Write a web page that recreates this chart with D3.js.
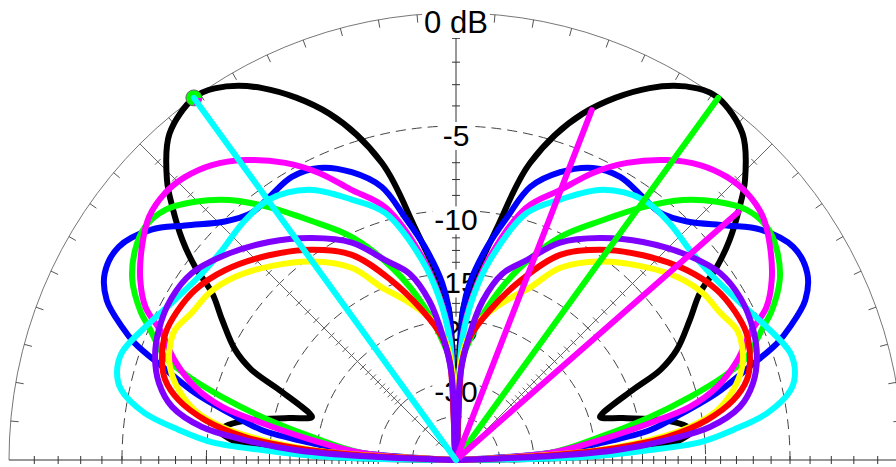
<!DOCTYPE html>
<html>
<head>
<meta charset="utf-8">
<script src="https://cdn.jsdelivr.net/npm/d3@7"></script>
<style>
  body { margin: 0; background: #fff; }
  svg { display: block; }
</style>
</head>
<body>
<div id="chart"></div>
<script>
// elevation patterns, dB vs elevation angle (0 = right horizon, 90 = zenith)
// the plot is left/right symmetric, so each series holds the right half (0..90 deg)
// and the left half is drawn from the same readings at 180 - angle

var blackPattern = [[0,-100],[1.35,-23],[2.95,-16],[4.2,-12.5],[5.5,-11.5],[7,-10.8],[8.8,-11.4],[11.1,-13.1],[14.1,-16.4],[16.6,-18.7],[17.7,-18.3],[21.6,-14.7],[23.8,-11.9],[26.5,-10.2],[30.9,-8.5],[34.4,-7.1],[36.5,-5.5],[38.8,-4.15],[41.7,-2.8],[44.1,-1.8],[48.7,-0.5],[54.1,0],[57,-0.15],[62.5,-1.1],[69.9,-3.3],[76,-6.5],[80,-11],[84,-15],[87.3,-18.7],[90,-100]];
var bluePattern = [[0,-100],[4.3,-26.7],[6.7,-19.3],[8.8,-14.1],[11.7,-11.3],[14.4,-8.7],[17.6,-6.4],[20,-4.6],[21.7,-3.75],[24.6,-2.6],[28,-2.0],[32.3,-1.95],[37.1,-2.7],[40.9,-3.8],[45.9,-5.1],[50.4,-5.7],[54.6,-5.6],[59.9,-5.35],[64.9,-5.6],[70.1,-6.5],[74.8,-7.85],[78.1,-10.1],[81.7,-12.55],[85.5,-15.8],[87.3,-18.7],[90,-100]];
var greenPattern = [[0,-100],[4.3,-26.7],[9.1,-19.2],[12.5,-13.9],[15.1,-10.5],[17.3,-8.05],[19.5,-6.35],[23.4,-4.97],[25.1,-4.3],[29.1,-3.22],[33.2,-2.63],[36.8,-2.4],[40.7,-2.63],[44.7,-3.38],[48.9,-4.44],[53.5,-6.03],[58.5,-7.94],[65,-10.25],[72,-13.8],[78.3,-18],[84,-23],[87.5,-27],[90,-100]];
var magentaPattern = [[0,-100],[4.3,-26.7],[7.9,-19.3],[10.8,-14.0],[12.8,-10.7],[15.6,-8.6],[19.6,-6.9],[23.4,-5.7],[26.2,-4.4],[29.7,-3.55],[34.2,-2.8],[38.4,-2.27],[42.5,-2.13],[46.2,-2.26],[50.4,-2.66],[54.9,-3.4],[60.1,-4.56],[64.5,-5.84],[68.7,-7.4],[74.5,-9.2],[80.4,-13.2],[84,-16.9],[87,-22],[90,-100]];
var cyanPattern = [[0,-100],[1.35,-21.6],[2.95,-14.3],[4.2,-10.3],[6.2,-8.1],[8.6,-6.0],[11.8,-4.6],[14.4,-4.2],[17.8,-4.15],[23.2,-4.8],[29.7,-5.55],[36.4,-6.0],[41.9,-6.05],[47.9,-5.8],[54.3,-5.7],[61.4,-6.4],[68.2,-8.0],[74,-9.5],[80.4,-13.6],[84,-17.2],[87.1,-22.6],[90,-100]];
var yellowPattern = [[0,-100],[3,-26.8],[4,-19.4],[5.9,-14.2],[8,-11.0],[10.8,-8.9],[14.2,-7.66],[18,-6.8],[21,-6.45],[24.8,-6.3],[29.1,-6.7],[34.1,-6.96],[39.6,-7.6],[45.9,-8.7],[54,-10.3],[61.6,-12.3],[66.8,-14.9],[72.3,-16.8],[80.3,-19.7],[84.8,-22.5],[87.5,-26.9],[90,-100]];
var redPattern = [[0,-100],[3,-25],[4.3,-17.5],[6.2,-12.8],[9.05,-9.7],[12.2,-7.8],[15.4,-6.75],[18.8,-6.25],[23.6,-5.9],[28,-5.95],[33.1,-6.2],[39.4,-6.9],[47.6,-8.2],[55.6,-9.65],[63.1,-11.4],[70,-14.5],[77.2,-18.3],[83.5,-22],[86.5,-26.2],[90,-100]];
var purplePattern = [[0,-100],[2.5,-25],[3.55,-17.5],[5.4,-12.8],[7.4,-9.56],[10.6,-7.5],[14.5,-6.46],[18.9,-5.84],[23.6,-5.5],[29.6,-5.35],[35.3,-5.55],[41.6,-6.35],[49.4,-7.6],[57,-9.0],[64.4,-10.6],[70.5,-12.8],[76,-14.5],[80.5,-17.5],[84,-22],[87,-28],[90,-100]];

// beam markers: max direction lines and -3 dB lines
var beamAngles = [54.1, 68.8, 41.3, 125.9];
var beamDb = [0, -3, -3, 0];

// grid levels (dB)
var ringLevels = [-5, -10, -15, -20, -30, -40];
var labelLevels = [0, -5, -10, -15, -20, -30];
var labelTexts = ["0 dB", "-5", "-10", "-15", "-20", "-30"];
var tickLevels = d3.range(-1, -31, -1).concat([-35, -40, -50]);
var angleTicks = d3.range(5, 180, 5);

var width = 896, height = 467;
var cx = 456, cy = 460, R = 447;

var series = [
  {data: blackPattern, color: "#000000"},
  {data: bluePattern, color: "#0000ff"},
  {data: greenPattern, color: "#00ff00"},
  {data: magentaPattern, color: "#ff00ff"},
  {data: cyanPattern, color: "#00ffff"},
  {data: yellowPattern, color: "#ffff00"},
  {data: redPattern, color: "#ff0000"},
  {data: purplePattern, color: "#8000ff"}
];
var beamColors = ["#00ff00", "#ff00ff", "#ff00ff", "#00ffff"];

// ARRL style log periodic radius: 0.89 per 2 dB
var rLog = d3.scaleLog().domain([R * Math.pow(0.89, 20), R]).range([-40, 0]);
function rad(db){ return rLog.invert(db); }
var ang = d3.scaleLinear().domain([0, 180]).range([Math.PI / 2, -Math.PI / 2]);

function px(a, db){
    var r = rad(db), t = ang(a);
    return [r * Math.sin(t), -r * Math.cos(t)];
}

var svg = d3.select("#chart")
        .append("svg")
        .attr("width", width)
        .attr("height", height);

var g = svg.append("g")
        .attr("transform", "translate(" + cx + "," + cy + ")");

// outer circle
var outer = d3.path();
outer.arc(0, 0, R, Math.PI, 2 * Math.PI);
g.append("path").attr("d", outer.toString())
    .attr("fill", "none").attr("stroke", "#777").attr("stroke-width", 1);

// dashed rings
g.selectAll(".ring")
    .data(ringLevels)
    .enter()
    .append("path")
    .attr("class", "ring")
    .attr("d", function(d){ var p = d3.path(); p.arc(0, 0, rad(d), Math.PI, 2 * Math.PI); return p.toString(); })
    .attr("fill", "none")
    .attr("stroke", "#444")
    .attr("stroke-width", 1)
    .attr("stroke-dasharray", "10,6");

// angle ticks on outer circle
g.selectAll(".aTick")
    .data(angleTicks)
    .enter()
    .append("line")
    .attr("class", "aTick")
    .attr("x1", function(d){ return px(d, 0)[0]; })
    .attr("y1", function(d){ return px(d, 0)[1]; })
    .attr("x2", function(d){ return px(d, 0)[0] * (R - 8) / R; })
    .attr("y2", function(d){ return px(d, 0)[1] * (R - 8) / R; })
    .attr("stroke", "#555")
    .attr("stroke-width", 1);

// radial axes with dB ticks
var axisAngles = [0, 45, 90, 135, 180];
axisAngles.forEach(function(a){
    var end = px(a, 0);
    g.append("line")
        .attr("x1", 0).attr("y1", 0)
        .attr("x2", end[0]).attr("y2", end[1])
        .attr("stroke", (a == 45 || a == 135) ? "#666" : "#333")
        .attr("stroke-width", 1);
    var t = ang(a);
    var nx = Math.cos(t), ny = Math.sin(t);   // perpendicular direction
    g.selectAll(".t" + a)
        .data(tickLevels)
        .enter()
        .append("line")
        .attr("x1", function(d){ return px(a, d)[0] - nx * 4; })
        .attr("y1", function(d){ return px(a, d)[1] - ny * 4; })
        .attr("x2", function(d){ return px(a, d)[0] + nx * 4; })
        .attr("y2", function(d){ return px(a, d)[1] + ny * 4; })
        .attr("stroke", (a == 45 || a == 135) ? "#666" : "#333")
        .attr("stroke-width", 1);
});

// level labels with white box
labelLevels.forEach(function(lv, i){
    var y = -rad(lv) + 20;
    var txt = g.append("text")
        .attr("x", 0)
        .attr("y", y)
        .attr("text-anchor", "middle")
        .style("font-family", "'Liberation Sans', Arial, sans-serif")
        .style("font-size", i == 0 ? "31px" : "30px")
        .style("fill", "#000")
        .text(labelTexts[i]);
    var bb = txt.node().getBBox();
    g.insert("rect", function(){ return txt.node(); })
        .attr("x", bb.x - 2).attr("y", bb.y + 3)
        .attr("width", bb.width + 4).attr("height", bb.height - 5)
        .attr("fill", "#fff");
});

// patterns
var line = d3.lineRadial()
        .angle(function(d){ return ang(d[0]); })
        .radius(function(d){ return rad(d[1]); })
        .curve(d3.curveCatmullRom.alpha(0.5));

function fullPattern(half){
    var left = half.slice(0, -1).reverse().map(function(d){ return [180 - d[0], d[1]]; });
    return half.concat(left);
}

g.selectAll(".pattern")
    .data(series)
    .enter()
    .append("path")
    .attr("class", "pattern")
    .attr("d", function(d){ return line(fullPattern(d.data)); })
    .attr("fill", "none")
    .attr("stroke", function(d){ return d.color; })
    .attr("stroke-width", 6)
    .attr("stroke-linejoin", "round");

// marker dot at the left maximum
var dot = px(beamAngles[3], beamDb[3]);
g.append("circle")
    .attr("cx", dot[0]).attr("cy", dot[1]).attr("r", 8)
    .attr("fill", "#00ff00").attr("stroke", "#666").attr("stroke-width", 1);
g.append("path")
    .attr("transform", "translate(" + dot[0] + "," + dot[1] + ")")
    .attr("d", d3.arc().innerRadius(0).outerRadius(7.5).startAngle(Math.PI * 0.5).endAngle(Math.PI))
    .attr("fill", "#ff00ff");

// beam lines
g.selectAll(".beam")
    .data(beamAngles)
    .enter()
    .append("line")
    .attr("class", "beam")
    .attr("x1", 0).attr("y1", 0)
    .attr("x2", function(d, i){ return px(d, beamDb[i])[0]; })
    .attr("y2", function(d, i){ return px(d, beamDb[i])[1]; })
    .attr("stroke", function(d, i){ return beamColors[i]; })
    .attr("stroke-width", 6)
    .attr("stroke-linecap", "round");
</script>
</body>
</html>
